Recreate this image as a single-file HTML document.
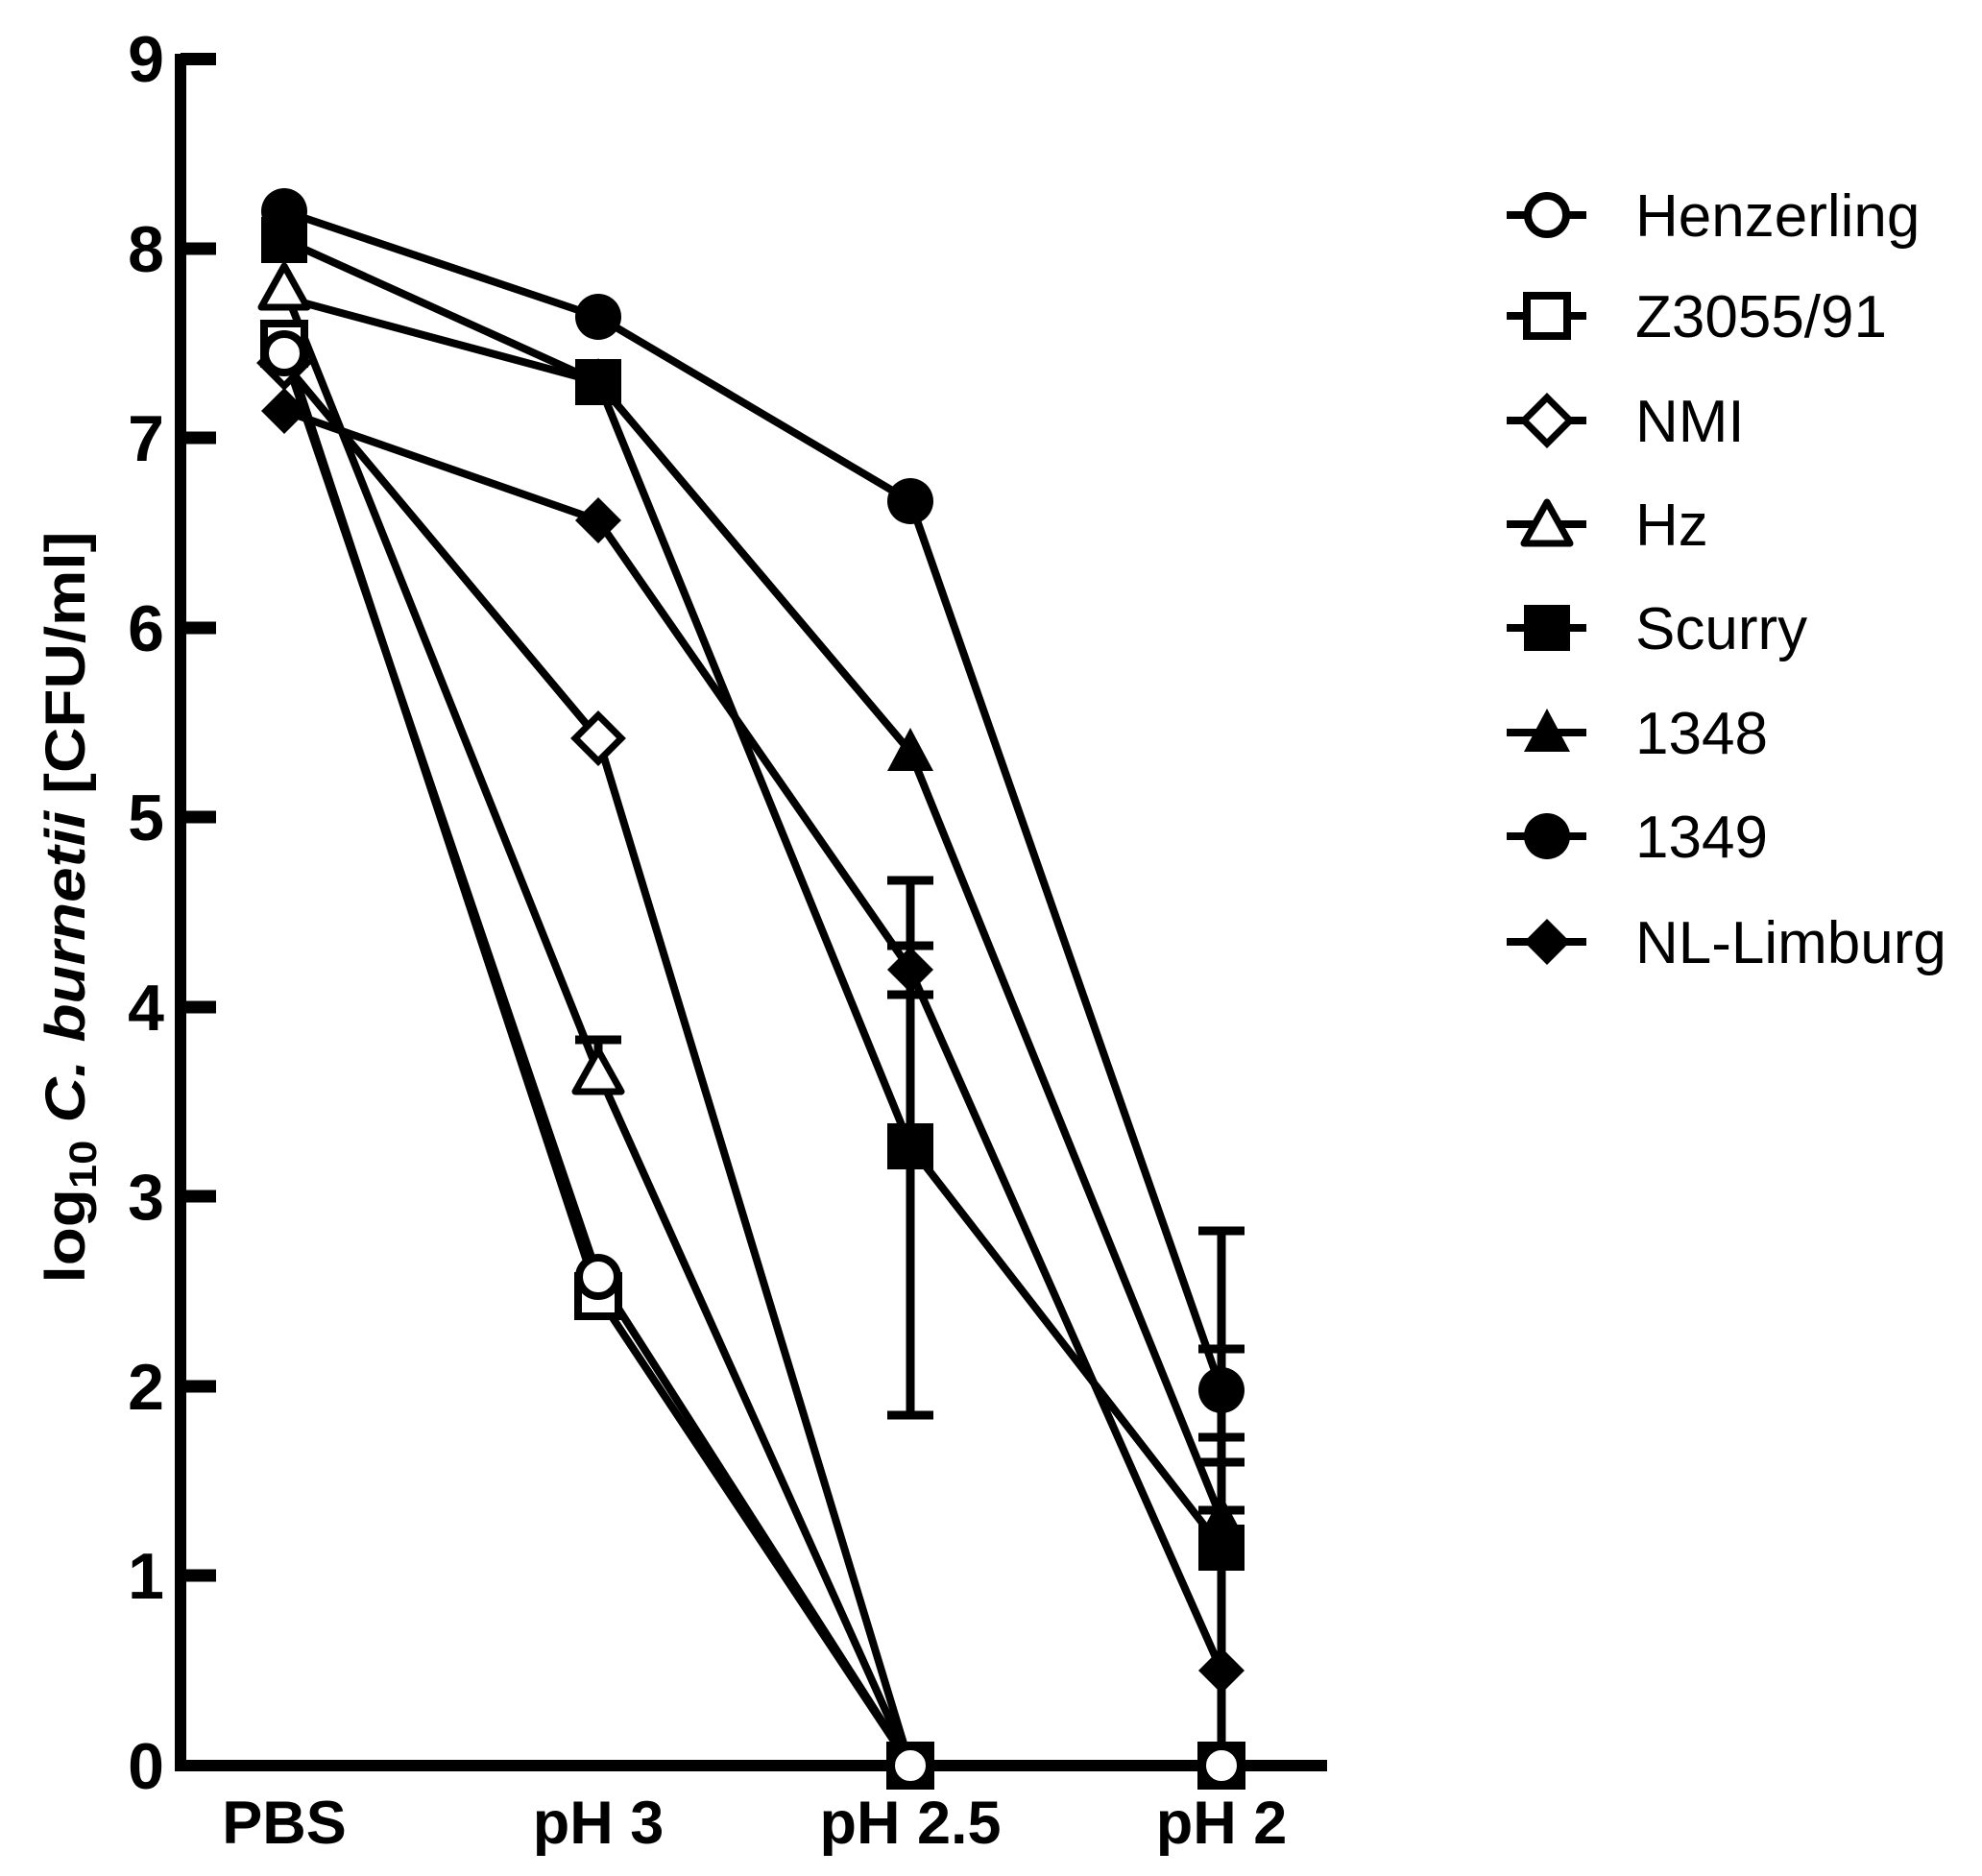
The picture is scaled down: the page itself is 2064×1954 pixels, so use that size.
<!DOCTYPE html>
<html><head><meta charset="utf-8"><style>
html,body{margin:0;padding:0;background:#fff;}
svg{display:block;}
text{font-family:"Liberation Sans",Arial,sans-serif;fill:#000;}
</style></head><body>
<svg width="2064" height="1954" viewBox="0 0 2064 1954" xmlns="http://www.w3.org/2000/svg">
<defs>
<g id="oc"><circle r="20" fill="#fff" stroke="#000" stroke-width="8"/></g>
<g id="os"><rect x="-21" y="-21" width="42" height="42" fill="#fff" stroke="#000" stroke-width="8"/></g>
<g id="od"><polygon points="0,-24 24,0 0,24 -24,0" fill="#fff" stroke="#000" stroke-width="7"/></g>
<g id="ot"><polygon points="0,-23 24,20 -24,20" fill="#fff" stroke="#000" stroke-width="7" stroke-linejoin="round"/></g>
<g id="fc"><circle r="24" fill="#000"/></g>
<g id="fs"><rect x="-24" y="-24" width="48" height="48" fill="#000"/></g>
<g id="fd"><polygon points="0,-24 24,0 0,24 -24,0" fill="#000"/></g>
<g id="ft"><polygon points="0,-25 24,20 -24,20" fill="#000"/></g>
</defs>

<g stroke="#000" stroke-width="12" fill="none">
<line x1="188" y1="56" x2="188" y2="1845"/>
<line x1="182" y1="1839" x2="1382" y2="1839"/>
</g>
<g stroke="#000" stroke-width="13">
<line x1="188" y1="61.5" x2="225" y2="61.5"/>
<line x1="188" y1="259" x2="225" y2="259"/>
<line x1="188" y1="456" x2="225" y2="456"/>
<line x1="188" y1="654" x2="225" y2="654"/>
<line x1="188" y1="851" x2="225" y2="851"/>
<line x1="188" y1="1049" x2="225" y2="1049"/>
<line x1="188" y1="1246" x2="225" y2="1246"/>
<line x1="188" y1="1444" x2="225" y2="1444"/>
<line x1="188" y1="1641" x2="225" y2="1641"/>
</g>
<g font-size="68" font-weight="bold" text-anchor="end">
<text x="171" y="85">9</text>
<text x="171" y="283">8</text>
<text x="171" y="480">7</text>
<text x="171" y="678">6</text>
<text x="171" y="875">5</text>
<text x="171" y="1073">4</text>
<text x="171" y="1270">3</text>
<text x="171" y="1468">2</text>
<text x="171" y="1665">1</text>
<text x="171" y="1863">0</text>
</g>
<g font-size="63" font-weight="bold" text-anchor="middle">
<text x="296" y="1920">PBS</text>
<text x="623" y="1920">pH 3</text>
<text x="948" y="1920">pH 2.5</text>
<text x="1272" y="1920">pH 2</text>
</g>
<text transform="translate(88,945) rotate(-90)" font-size="58" font-weight="bold" text-anchor="middle" textLength="783" lengthAdjust="spacingAndGlyphs">log<tspan font-size="40" dy="12">10</tspan><tspan dy="-12"> </tspan><tspan font-style="italic">C. burnetii</tspan> [CFU/ml]</text>

<g stroke="#000" stroke-width="8" fill="none" stroke-linejoin="round">
<polyline points="296,368 623,1330 948,1839 1272,1839"/>
<polyline points="296,358 623,1350 948,1839 1272,1839"/>
<polyline points="296,378 623,769 948,1839 1272,1839"/>
<polyline points="296,300 623,1117 948,1839 1272,1839"/>
<polyline points="296,250 623,398 948,1194 1272,1612"/>
<polyline points="296,310 623,398 948,783 1272,1582"/>
<polyline points="296,220 623,330 948,522 1272,1448"/>
<polyline points="296,428 623,542 948,1010 1272,1740"/>
</g>
<g stroke="#000" stroke-width="9">
<line x1="623" y1="1083" x2="623" y2="1117"/><line x1="599" y1="1083" x2="647" y2="1083"/>
<line x1="948" y1="917" x2="948" y2="1474"/>
<line x1="924" y1="917" x2="972" y2="917"/><line x1="924" y1="1474" x2="972" y2="1474"/>
<line x1="924" y1="985" x2="972" y2="985"/><line x1="924" y1="1036" x2="972" y2="1036"/>
<line x1="1272" y1="1282" x2="1272" y2="1839"/>
<line x1="1248" y1="1282" x2="1296" y2="1282"/>
<line x1="1248" y1="1405" x2="1296" y2="1405"/>
<line x1="1248" y1="1497" x2="1296" y2="1497"/>
<line x1="1248" y1="1523" x2="1296" y2="1523"/>
<line x1="1248" y1="1573" x2="1296" y2="1573"/>
</g>
<use href="#fd" x="296" y="428"/>
<use href="#ft" x="296" y="300"/>
<use href="#fs" x="296" y="250"/>
<use href="#fc" x="296" y="220"/>
<use href="#ot" x="296" y="300"/>
<use href="#od" x="296" y="378"/>
<use href="#os" x="296" y="358"/>
<use href="#oc" x="296" y="368"/>

<use href="#fd" x="623" y="542"/>
<use href="#ft" x="623" y="398"/>
<use href="#fs" x="623" y="398"/>
<use href="#fc" x="623" y="330"/>
<use href="#od" x="623" y="769"/>
<use href="#ot" x="623" y="1117"/>
<use href="#os" x="623" y="1350"/>
<use href="#oc" x="623" y="1330"/>

<use href="#fd" x="948" y="1010"/>
<use href="#ft" x="948" y="783"/>
<use href="#fs" x="948" y="1194"/>
<use href="#fc" x="948" y="522"/>
<use href="#os" x="948" y="1839"/>
<use href="#oc" x="948" y="1839"/>

<use href="#fd" x="1272" y="1740"/>
<use href="#ft" x="1272" y="1582"/>
<use href="#fs" x="1272" y="1612"/>
<use href="#fc" x="1272" y="1448"/>
<use href="#os" x="1272" y="1839"/>
<use href="#oc" x="1272" y="1839"/>

<g stroke="#000" stroke-width="8">
<line x1="1569" y1="224" x2="1652" y2="224"/>
<line x1="1569" y1="329" x2="1652" y2="329"/>
<line x1="1569" y1="438" x2="1652" y2="438"/>
<line x1="1569" y1="546" x2="1652" y2="546"/>
<line x1="1569" y1="654" x2="1652" y2="654"/>
<line x1="1569" y1="763" x2="1652" y2="763"/>
<line x1="1569" y1="871" x2="1652" y2="871"/>
<line x1="1569" y1="981" x2="1652" y2="981"/>
</g>
<use href="#oc" x="1611" y="224"/>
<use href="#os" x="1611" y="329"/>
<use href="#od" x="1611" y="438"/>
<use href="#ot" x="1611" y="546"/>
<use href="#fs" x="1611" y="654"/>
<use href="#ft" x="1611" y="763"/>
<use href="#fc" x="1611" y="871"/>
<use href="#fd" x="1611" y="981"/>
<g font-size="62">
<text x="1703" y="246">Henzerling</text>
<text x="1703" y="351">Z3055/91</text>
<text x="1703" y="460">NMI</text>
<text x="1703" y="568">Hz</text>
<text x="1703" y="676">Scurry</text>
<text x="1703" y="785">1348</text>
<text x="1703" y="893">1349</text>
<text x="1703" y="1003">NL-Limburg</text>
</g>
</svg>
</body></html>
